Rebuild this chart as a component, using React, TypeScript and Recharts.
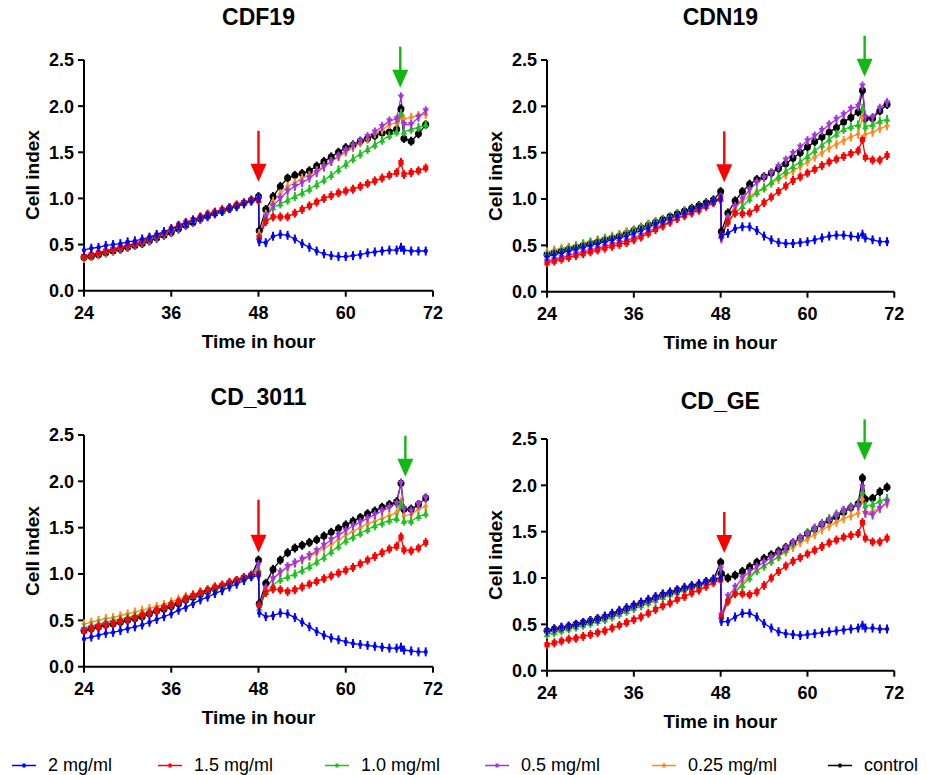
import { LineChart, Line, XAxis, YAxis, ReferenceDot } from "recharts"

// sampling times (h); 48.1 is the read right after treatment, 67.6 the second addition
const hours = [24, 25, 26, 27, 28, 29, 30, 31, 32, 33, 34, 35, 36, 37, 38, 39, 40, 41, 42, 43, 44, 45, 46, 47, 48, 48.1, 49, 50, 51, 52, 53, 54, 55, 56, 57, 58, 59, 60, 61, 62, 63, 64, 65, 66, 67, 67.6, 68, 69, 70, 71]

const xTicks = [24, 36, 48, 60, 72]
const yTicks = [0, 0.5, 1, 1.5, 2, 2.5]

// CDF19
const cdf19Blue = [0.44, 0.46, 0.47, 0.49, 0.50, 0.51, 0.53, 0.54, 0.56, 0.58, 0.61, 0.64, 0.67, 0.70, 0.73, 0.76, 0.79, 0.81, 0.84, 0.86, 0.89, 0.91, 0.94, 0.97, 1.00, 0.53, 0.52, 0.59, 0.61, 0.60, 0.56, 0.51, 0.47, 0.43, 0.40, 0.38, 0.37, 0.37, 0.38, 0.39, 0.41, 0.42, 0.43, 0.44, 0.44, 0.47, 0.44, 0.43, 0.43, 0.43]
const cdf19Red = [0.37, 0.39, 0.41, 0.43, 0.45, 0.47, 0.49, 0.51, 0.54, 0.57, 0.60, 0.63, 0.67, 0.71, 0.74, 0.77, 0.80, 0.83, 0.85, 0.88, 0.90, 0.93, 0.95, 0.98, 0.98, 0.57, 0.75, 0.80, 0.80, 0.80, 0.84, 0.88, 0.92, 0.96, 1.00, 1.03, 1.06, 1.08, 1.10, 1.13, 1.16, 1.19, 1.22, 1.25, 1.28, 1.39, 1.26, 1.28, 1.30, 1.33]
const cdf19Green = [0.38, 0.39, 0.41, 0.43, 0.45, 0.47, 0.49, 0.51, 0.53, 0.56, 0.59, 0.62, 0.66, 0.70, 0.73, 0.76, 0.79, 0.82, 0.85, 0.87, 0.90, 0.92, 0.95, 0.98, 0.98, 0.58, 0.80, 0.90, 0.94, 0.98, 1.02, 1.06, 1.10, 1.15, 1.20, 1.25, 1.31, 1.37, 1.43, 1.48, 1.53, 1.58, 1.63, 1.68, 1.72, 1.92, 1.72, 1.75, 1.77, 1.80]
const cdf19Purple = [0.37, 0.38, 0.40, 0.42, 0.44, 0.45, 0.47, 0.49, 0.52, 0.54, 0.57, 0.60, 0.63, 0.67, 0.71, 0.74, 0.77, 0.80, 0.83, 0.86, 0.89, 0.92, 0.95, 0.98, 1.00, 0.58, 0.80, 0.92, 1.00, 1.08, 1.13, 1.17, 1.22, 1.28, 1.34, 1.40, 1.46, 1.52, 1.57, 1.62, 1.67, 1.72, 1.78, 1.84, 1.86, 2.10, 1.80, 1.80, 1.88, 1.95]
const cdf19Orange = [0.35, 0.37, 0.39, 0.41, 0.43, 0.45, 0.47, 0.49, 0.52, 0.55, 0.58, 0.61, 0.65, 0.69, 0.72, 0.76, 0.79, 0.82, 0.85, 0.87, 0.90, 0.92, 0.95, 0.98, 0.99, 0.62, 0.83, 0.97, 1.05, 1.13, 1.17, 1.22, 1.25, 1.30, 1.35, 1.40, 1.45, 1.50, 1.55, 1.60, 1.64, 1.70, 1.74, 1.80, 1.82, 1.90, 1.86, 1.88, 1.90, 1.91]
const cdf19Control = [0.36, 0.37, 0.39, 0.41, 0.43, 0.45, 0.47, 0.49, 0.51, 0.54, 0.57, 0.60, 0.63, 0.67, 0.71, 0.74, 0.78, 0.81, 0.84, 0.86, 0.89, 0.92, 0.95, 0.98, 1.02, 0.65, 0.88, 1.02, 1.13, 1.22, 1.25, 1.27, 1.30, 1.35, 1.40, 1.45, 1.50, 1.55, 1.58, 1.62, 1.65, 1.68, 1.71, 1.72, 1.75, 1.97, 1.65, 1.62, 1.70, 1.80]

// CDN19
const cdn19Blue = [0.38, 0.40, 0.42, 0.44, 0.46, 0.48, 0.50, 0.52, 0.54, 0.56, 0.58, 0.60, 0.63, 0.66, 0.69, 0.73, 0.76, 0.79, 0.82, 0.85, 0.88, 0.91, 0.94, 0.98, 1.00, 0.60, 0.63, 0.68, 0.70, 0.70, 0.66, 0.60, 0.56, 0.53, 0.52, 0.52, 0.53, 0.54, 0.56, 0.58, 0.60, 0.61, 0.61, 0.60, 0.59, 0.62, 0.58, 0.56, 0.54, 0.54]
const cdn19Red = [0.31, 0.33, 0.35, 0.37, 0.39, 0.41, 0.43, 0.45, 0.47, 0.49, 0.51, 0.53, 0.56, 0.59, 0.63, 0.67, 0.71, 0.75, 0.79, 0.82, 0.85, 0.88, 0.92, 0.96, 1.00, 0.60, 0.75, 0.85, 0.84, 0.85, 0.90, 0.96, 1.02, 1.08, 1.14, 1.20, 1.24, 1.28, 1.32, 1.36, 1.40, 1.43, 1.46, 1.49, 1.52, 1.64, 1.45, 1.42, 1.42, 1.47]
const cdn19Green = [0.41, 0.43, 0.45, 0.47, 0.49, 0.51, 0.53, 0.55, 0.57, 0.59, 0.61, 0.63, 0.66, 0.69, 0.72, 0.75, 0.78, 0.81, 0.84, 0.87, 0.89, 0.92, 0.95, 0.98, 1.00, 0.60, 0.77, 0.85, 0.92, 1.00, 1.07, 1.12, 1.18, 1.24, 1.30, 1.35, 1.40, 1.46, 1.52, 1.58, 1.64, 1.70, 1.75, 1.78, 1.80, 1.98, 1.78, 1.80, 1.84, 1.86]
const cdn19Purple = [0.33, 0.35, 0.37, 0.39, 0.41, 0.43, 0.45, 0.47, 0.49, 0.51, 0.53, 0.55, 0.58, 0.61, 0.65, 0.69, 0.72, 0.76, 0.79, 0.83, 0.86, 0.89, 0.93, 0.97, 1.02, 0.57, 0.80, 0.92, 1.00, 1.10, 1.18, 1.23, 1.28, 1.35, 1.42, 1.49, 1.56, 1.63, 1.68, 1.74, 1.80, 1.86, 1.91, 1.97, 2.00, 2.22, 1.88, 1.88, 1.98, 2.04]
const cdn19Orange = [0.43, 0.45, 0.47, 0.48, 0.50, 0.52, 0.54, 0.56, 0.58, 0.60, 0.62, 0.65, 0.67, 0.70, 0.73, 0.76, 0.78, 0.81, 0.83, 0.86, 0.88, 0.91, 0.94, 0.97, 1.00, 0.58, 0.80, 0.90, 0.98, 1.03, 1.08, 1.12, 1.17, 1.21, 1.26, 1.30, 1.35, 1.40, 1.45, 1.50, 1.55, 1.59, 1.63, 1.67, 1.70, 1.88, 1.70, 1.72, 1.76, 1.79]
const cdn19Control = [0.40, 0.42, 0.44, 0.46, 0.48, 0.50, 0.52, 0.54, 0.56, 0.58, 0.60, 0.63, 0.66, 0.69, 0.72, 0.75, 0.78, 0.81, 0.84, 0.87, 0.90, 0.93, 0.96, 0.99, 1.08, 0.65, 0.85, 0.98, 1.08, 1.16, 1.21, 1.24, 1.28, 1.33, 1.38, 1.44, 1.50, 1.56, 1.62, 1.67, 1.72, 1.77, 1.83, 1.88, 1.94, 2.17, 1.87, 1.87, 1.95, 2.02]

// CD_3011
const cd3011Blue = [0.30, 0.32, 0.34, 0.36, 0.37, 0.39, 0.41, 0.43, 0.45, 0.48, 0.51, 0.54, 0.57, 0.61, 0.64, 0.68, 0.72, 0.75, 0.79, 0.82, 0.86, 0.89, 0.93, 0.97, 0.98, 0.58, 0.54, 0.55, 0.58, 0.57, 0.53, 0.48, 0.43, 0.38, 0.34, 0.31, 0.29, 0.27, 0.25, 0.24, 0.23, 0.22, 0.21, 0.20, 0.20, 0.21, 0.18, 0.17, 0.16, 0.16]
const cd3011Red = [0.38, 0.41, 0.43, 0.45, 0.47, 0.49, 0.51, 0.53, 0.56, 0.58, 0.61, 0.64, 0.67, 0.70, 0.74, 0.77, 0.80, 0.83, 0.86, 0.88, 0.91, 0.93, 0.96, 0.99, 1.00, 0.66, 0.80, 0.84, 0.83, 0.81, 0.83, 0.86, 0.89, 0.92, 0.95, 0.98, 1.01, 1.04, 1.07, 1.11, 1.15, 1.19, 1.23, 1.27, 1.30, 1.40, 1.26, 1.25, 1.28, 1.34]
const cd3011Green = [0.42, 0.44, 0.46, 0.48, 0.50, 0.51, 0.53, 0.55, 0.57, 0.59, 0.61, 0.64, 0.67, 0.70, 0.73, 0.76, 0.79, 0.82, 0.85, 0.87, 0.90, 0.92, 0.95, 0.98, 1.05, 0.63, 0.80, 0.88, 0.94, 0.97, 1.00, 1.04, 1.08, 1.13, 1.18, 1.24, 1.30, 1.36, 1.40, 1.44, 1.48, 1.52, 1.55, 1.58, 1.60, 1.75, 1.57, 1.57, 1.62, 1.65]
const cd3011Purple = [0.40, 0.42, 0.44, 0.46, 0.47, 0.49, 0.51, 0.53, 0.55, 0.58, 0.60, 0.63, 0.66, 0.69, 0.72, 0.75, 0.78, 0.81, 0.84, 0.86, 0.89, 0.92, 0.95, 0.98, 1.10, 0.65, 0.85, 0.95, 1.02, 1.08, 1.12, 1.16, 1.20, 1.25, 1.31, 1.37, 1.42, 1.47, 1.52, 1.56, 1.60, 1.64, 1.68, 1.72, 1.76, 1.98, 1.70, 1.68, 1.75, 1.82]
const cd3011Orange = [0.46, 0.48, 0.50, 0.52, 0.53, 0.55, 0.57, 0.59, 0.61, 0.63, 0.65, 0.67, 0.70, 0.73, 0.76, 0.78, 0.81, 0.83, 0.86, 0.88, 0.90, 0.93, 0.95, 0.98, 1.00, 0.65, 0.83, 0.95, 1.02, 1.07, 1.12, 1.15, 1.19, 1.23, 1.28, 1.32, 1.37, 1.42, 1.46, 1.50, 1.54, 1.57, 1.60, 1.63, 1.66, 1.78, 1.63, 1.64, 1.70, 1.73]
const cd3011Control = [0.39, 0.41, 0.43, 0.45, 0.46, 0.48, 0.50, 0.52, 0.54, 0.57, 0.60, 0.62, 0.65, 0.68, 0.72, 0.75, 0.78, 0.81, 0.84, 0.87, 0.90, 0.93, 0.96, 0.98, 1.15, 0.68, 0.90, 1.05, 1.15, 1.23, 1.28, 1.31, 1.34, 1.37, 1.41, 1.45, 1.49, 1.53, 1.57, 1.61, 1.65, 1.68, 1.72, 1.75, 1.78, 1.98, 1.70, 1.70, 1.75, 1.82]

// CD_GE
const cdgeBlue = [0.43, 0.45, 0.47, 0.48, 0.50, 0.52, 0.54, 0.56, 0.59, 0.62, 0.65, 0.68, 0.71, 0.74, 0.77, 0.80, 0.83, 0.85, 0.87, 0.90, 0.92, 0.94, 0.96, 0.99, 1.00, 0.53, 0.53, 0.58, 0.62, 0.62, 0.58, 0.51, 0.46, 0.42, 0.40, 0.39, 0.38, 0.39, 0.40, 0.41, 0.42, 0.43, 0.44, 0.45, 0.46, 0.49, 0.46, 0.46, 0.45, 0.45]
const cdgeRed = [0.28, 0.30, 0.32, 0.34, 0.35, 0.37, 0.39, 0.41, 0.43, 0.46, 0.49, 0.52, 0.55, 0.58, 0.62, 0.66, 0.70, 0.73, 0.77, 0.80, 0.84, 0.87, 0.91, 0.95, 0.98, 0.58, 0.75, 0.83, 0.83, 0.82, 0.85, 0.92, 1.00, 1.07, 1.13, 1.18, 1.22, 1.26, 1.30, 1.34, 1.38, 1.41, 1.44, 1.46, 1.48, 1.60, 1.43, 1.39, 1.39, 1.43]
const cdgeGreen = [0.39, 0.41, 0.43, 0.45, 0.47, 0.49, 0.51, 0.53, 0.55, 0.58, 0.61, 0.64, 0.67, 0.70, 0.73, 0.76, 0.79, 0.82, 0.84, 0.87, 0.89, 0.92, 0.95, 0.98, 1.00, 0.58, 0.77, 0.85, 0.92, 1.00, 1.08, 1.13, 1.18, 1.23, 1.30, 1.37, 1.43, 1.49, 1.54, 1.59, 1.64, 1.69, 1.73, 1.77, 1.80, 1.93, 1.78, 1.79, 1.83, 1.86]
const cdgePurple = [0.42, 0.44, 0.46, 0.47, 0.49, 0.51, 0.53, 0.55, 0.57, 0.60, 0.63, 0.66, 0.69, 0.72, 0.75, 0.78, 0.81, 0.83, 0.86, 0.88, 0.90, 0.93, 0.95, 0.98, 1.10, 0.60, 0.80, 0.90, 1.00, 1.07, 1.12, 1.17, 1.22, 1.27, 1.32, 1.38, 1.43, 1.48, 1.53, 1.58, 1.63, 1.68, 1.73, 1.76, 1.78, 1.98, 1.70, 1.68, 1.75, 1.82]
const cdgeOrange = [0.41, 0.43, 0.45, 0.47, 0.49, 0.51, 0.53, 0.55, 0.57, 0.60, 0.63, 0.66, 0.69, 0.72, 0.75, 0.78, 0.81, 0.83, 0.86, 0.88, 0.90, 0.93, 0.95, 0.98, 1.00, 0.57, 0.75, 0.85, 0.95, 1.03, 1.08, 1.13, 1.18, 1.23, 1.28, 1.33, 1.38, 1.42, 1.47, 1.52, 1.56, 1.60, 1.64, 1.67, 1.70, 1.85, 1.70, 1.72, 1.76, 1.80]
const cdgeControl = [0.43, 0.45, 0.46, 0.48, 0.50, 0.52, 0.54, 0.56, 0.58, 0.61, 0.64, 0.67, 0.70, 0.73, 0.76, 0.79, 0.82, 0.84, 0.87, 0.89, 0.91, 0.93, 0.96, 0.98, 1.17, 1.05, 1.00, 1.03, 1.07, 1.12, 1.17, 1.21, 1.25, 1.29, 1.33, 1.38, 1.43, 1.48, 1.53, 1.58, 1.62, 1.66, 1.71, 1.76, 1.80, 2.08, 1.85, 1.86, 1.93, 1.98]

// draw order: control at the back, 2 mg/ml on top
const series = [
  { key: "control", label: "control", color: "#000000", marker: "circle" },
  { key: "c025", label: "0.25 mg/ml", color: "#ff8a1c", marker: "diamond" },
  { key: "c10", label: "1.0 mg/ml", color: "#1fbf1f", marker: "up" },
  { key: "c05", label: "0.5 mg/ml", color: "#a533de", marker: "down" },
  { key: "c15", label: "1.5 mg/ml", color: "#ff0000", marker: "square" },
  { key: "c2", label: "2 mg/ml", color: "#0000ff", marker: "small" },
]
const legendOrder = ["c2", "c15", "c10", "c05", "c025", "control"]

const rowsOf = (b, r, g, p, o, c) =>
  hours.map((t, i) => ({ t, c2: b[i], c15: r[i], c10: g[i], c05: p[i], c025: o[i], control: c[i] }))

const panels = [
  { title: "CDF19", rows: rowsOf(cdf19Blue, cdf19Red, cdf19Green, cdf19Purple, cdf19Orange, cdf19Control), plot: { left: 84, right: 433, top: 60, bottom: 290.7 }, titleY: 17, red: { x: 48, y: 1.18, shaft: 34 }, green: { x: 67.5, y: 2.2, shaft: 24 } },
  { title: "CDN19", rows: rowsOf(cdn19Blue, cdn19Red, cdn19Green, cdn19Purple, cdn19Orange, cdn19Control), plot: { left: 546.7, right: 894, top: 60, bottom: 291.7 }, titleY: 17, red: { x: 48.5, y: 1.18, shaft: 34 }, green: { x: 67.9, y: 2.32, shaft: 24 } },
  { title: "CD_3011", rows: rowsOf(cd3011Blue, cd3011Red, cd3011Green, cd3011Purple, cd3011Orange, cd3011Control), plot: { left: 84, right: 433, top: 435, bottom: 666.7 }, titleY: 397, red: { x: 48, y: 1.23, shaft: 36 }, green: { x: 68.2, y: 2.05, shaft: 24 } },
  { title: "CD_GE", rows: rowsOf(cdgeBlue, cdgeRed, cdgeGreen, cdgePurple, cdgeOrange, cdgeControl), plot: { left: 546.7, right: 894, top: 439, bottom: 670.7 }, titleY: 401, red: { x: 48.5, y: 1.27, shaft: 24 }, green: { x: 67.9, y: 2.27, shaft: 24 } },
]

const FONT = "'Liberation Sans', Arial, sans-serif"

function marker(kind, color, cx, cy) {
  if (kind === "circle") return <circle cx={cx} cy={cy} r={3.5} fill={color} />
  if (kind === "square") return <rect x={cx - 2.6} y={cy - 2.6} width={5.2} height={5.2} fill={color} />
  if (kind === "up") return <polygon points={`${cx},${cy - 3.4} ${cx + 3.3},${cy + 2.5} ${cx - 3.3},${cy + 2.5}`} fill={color} />
  if (kind === "down") return <polygon points={`${cx},${cy + 3.4} ${cx + 3.3},${cy - 2.5} ${cx - 3.3},${cy - 2.5}`} fill={color} />
  if (kind === "diamond") return <polygon points={`${cx},${cy - 3} ${cx + 2.6},${cy} ${cx},${cy + 3} ${cx - 2.6},${cy}`} fill={color} />
  return <circle cx={cx} cy={cy} r={2.2} fill={color} />
}

// marker plus a short error-bar stroke
const makeDot = (s) => (props) => {
  const { cx, cy, index } = props
  if (cx == null || cy == null) return <g key={index} />
  return (
    <g key={index}>
      <line x1={cx} x2={cx} y1={cy - 4.5} y2={cy + 4.5} stroke={s.color} strokeWidth={2} />
      {marker(s.marker, s.color, cx, cy)}
    </g>
  )
}

const arrow = (color, shaft) => (props) => {
  const { cx, cy } = props
  return (
    <g>
      <line x1={cx} x2={cx} y1={cy - 17 - shaft} y2={cy - 15} stroke={color} strokeWidth={2.4} />
      <polygon points={`${cx - 8},${cy - 18} ${cx + 8},${cy - 18} ${cx},${cy}`} fill={color} />
    </g>
  )
}

const tickStyle = { fontFamily: FONT, fontWeight: 700, fontSize: 18, fill: "#000" }

function Panel({ p }) {
  const left = p.plot.left - 84
  const top = p.plot.top - 60
  const width = p.plot.right + 30 - left
  const height = p.plot.bottom + 80 - top
  const midX = (p.plot.left + p.plot.right) / 2
  const midY = (p.plot.top + p.plot.bottom) / 2
  const text = { position: "absolute", fontFamily: FONT, fontWeight: 700, color: "#000", whiteSpace: "nowrap" } as const
  return (
    <>
      <div style={{ position: "absolute", left, top }}>
        <LineChart width={width} height={height} data={p.rows} margin={{ top: 60, right: 30, bottom: 50, left: 24 }}>
          <XAxis dataKey="t" type="number" domain={[24, 72]} ticks={xTicks} height={30} tick={tickStyle}
            axisLine={{ stroke: "#000", strokeWidth: 2 }} tickLine={{ stroke: "#000", strokeWidth: 2 }} tickSize={6} tickMargin={10} />
          <YAxis type="number" domain={[0, 2.5]} ticks={yTicks} width={60} tick={tickStyle} tickFormatter={(v) => v.toFixed(1)}
            axisLine={{ stroke: "#000", strokeWidth: 2 }} tickLine={{ stroke: "#000", strokeWidth: 2 }} tickSize={6} tickMargin={4} />
          {series.map((s) => (
            <Line key={s.key} dataKey={s.key} stroke={s.color} strokeWidth={1.3} dot={makeDot(s)} activeDot={false} isAnimationActive={false} />
          ))}
          <ReferenceDot x={p.red.x} y={p.red.y} ifOverflow="visible" shape={arrow("#ff0000", p.red.shaft)} />
          <ReferenceDot x={p.green.x} y={p.green.y} ifOverflow="visible" shape={arrow("#12b812", p.green.shaft)} />
        </LineChart>
      </div>
      <div style={{ ...text, left: midX, top: p.titleY, fontSize: 23, transform: "translate(-50%, -50%)" }}>{p.title}</div>
      <div style={{ ...text, left: midX, top: p.plot.bottom + 51, fontSize: 19, transform: "translate(-50%, -50%)" }}>Time in hour</div>
      <div style={{ ...text, left: p.plot.left - 51, top: midY, fontSize: 19, transform: "translate(-50%, -50%) rotate(-90deg)" }}>Cell index</div>
    </>
  )
}

const legendX = [12, 158, 325, 485, 652, 828]

function Legend() {
  return (
    <>
      {legendOrder.map((k, i) => {
        const s = series.find((d) => d.key === k)
        return (
          <div key={k} style={{ position: "absolute", left: legendX[i], top: 765, transform: "translateY(-50%)", display: "flex", alignItems: "center", fontFamily: FONT, fontSize: 18, color: "#000", whiteSpace: "nowrap" }}>
            <svg width={24} height={10} style={{ marginRight: 12 }}>
              <line x1={0} x2={24} y1={5} y2={5} stroke={s.color} strokeWidth={1.5} />
              <rect x={10.5} y={3} width={3} height={4} fill={s.color} />
            </svg>
            {s.label}
          </div>
        )
      })}
    </>
  )
}

export default function App() {
  return (
    <div style={{ position: "absolute", left: 0, top: 0, width: 932, height: 775, background: "#fff", overflow: "hidden" }}>
      {panels.map((p) => <Panel key={p.title} p={p} />)}
      <Legend />
    </div>
  )
}
